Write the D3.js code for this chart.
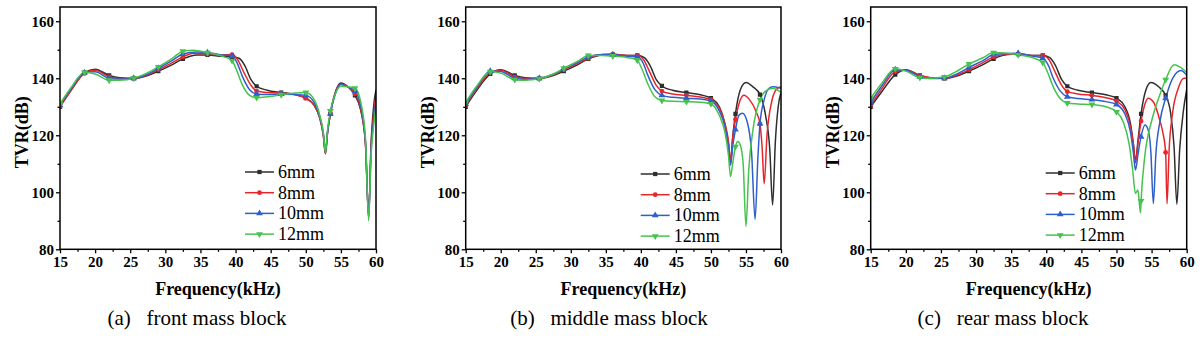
<!DOCTYPE html>
<html>
<head>
<meta charset="utf-8">
<script src="https://cdn.jsdelivr.net/npm/d3@7"></script>
<style>
  body { margin: 0; background: #fff; }
  svg { display: block; }
  svg text { font-family: "Liberation Serif", "Times New Roman", Times, "DejaVu Serif", serif !important; }
</style>
</head>
<body>
<div id="chart"></div>
<script>
// series labels, colours and marker frequencies
const seriesNames = ["6mm", "8mm", "10mm", "12mm"];
const seriesColors = ["#2e2e2e", "#e8262a", "#2f5fcc", "#46c24f"];
const markerFreqs = [15, 18.5, 22, 25.5, 29, 32.5, 36, 39.5, 43, 46.5, 50, 53.5, 57];
const xTicks = [15, 20, 25, 30, 35, 40, 45, 50, 55, 60];
const yTicks = [80, 100, 120, 140, 160];

// (a) front mass block
const front6 = [[15,130],[16.5,135.5],[18.5,142],[20,143.2],[22,141],[23.5,140.2],[25.5,140],[27.5,141],[29,142.5],[31,144.8],[32.5,146.8],[34.5,148.2],[36,148.2],[38,147.7],[39.5,147.5],[40.5,147],[41.3,144.5],[42.2,139.5],[43,137.2],[44.5,135.8],[46.5,135],[48.5,134.3],[50,133],[51.2,130.5],[52,126],[52.5,120],[52.8,113.5],[53.1,121],[53.5,127.5],[54.2,135],[55,138.3],[56,137],[57,134],[57.8,129],[58.5,117],[58.95,92],[59.3,117],[59.7,131],[60,136]];
const front8 = [[15,130],[16.5,135.5],[18.5,141.7],[20,142.8],[22,140.5],[23.5,139.9],[25.5,140],[27.5,141.2],[29,143],[31,145.5],[32.5,147.5],[34,148.8],[36,148.5],[38,148.2],[39.5,148.3],[40.3,146.5],[41.2,142],[42.2,137.5],[43,135.5],[44.5,135],[46.5,134.8],[48.5,134.2],[50,133],[51.2,130.5],[52,126],[52.5,120],[52.8,113.5],[53.1,121],[53.5,127.5],[54.2,134.8],[55,138],[56,137],[57,134.5],[57.8,129.5],[58.5,117],[58.95,91],[59.3,116],[59.7,128],[60,134]];
const front10 = [[15,130.5],[16.5,136],[18.5,142],[20,142.3],[22,140],[23.5,139.7],[25.5,140],[27.5,141.5],[29,143.5],[31,146.3],[32.5,148.5],[34.5,149.2],[36,149],[38,148.2],[39.5,147.8],[40.2,145.5],[41,140.5],[42,136],[43,134.5],[44.5,134.3],[46.5,134.5],[48.5,134.3],[50,134],[51.2,131.5],[52,126.5],[52.5,120.5],[52.8,114],[53.1,121],[53.5,127.5],[54.2,134.5],[55,137.8],[56,137],[57,135.5],[57.8,130.5],[58.5,118],[58.95,91],[59.3,115],[59.7,126],[60,132]];
const front12 = [[15,131],[16.5,136.5],[18.5,142],[20,141.5],[22,139.3],[23.5,139.3],[25.5,140],[27.5,142],[29,144],[31,147],[32.5,149.5],[34,149.8],[36,149],[38,147.8],[39.5,146.2],[40.2,142.5],[41,137.5],[42,134],[43,133.2],[44.5,133.5],[46.5,134.2],[48.5,134.8],[50,135],[51.2,132.5],[52,127],[52.5,121],[52.8,114],[53.1,122],[53.5,128.5],[54.2,134.5],[55,137.2],[56,137],[57,136.5],[57.8,132],[58.5,119],[58.95,90],[59.3,113],[59.7,124],[60,130]];

// (b) middle mass block
const middle6 = [[15,130],[16.5,135.5],[18.5,141.5],[20,143],[22,141],[23.5,140.2],[25.5,140],[27.5,141],[29,142.5],[31,144.8],[32.5,146.8],[34.5,148.2],[36,148.3],[38,148],[39.5,148],[40.5,147.2],[41.3,144.5],[42.2,139.5],[43,137.3],[44.5,135.8],[46.5,135],[48.5,134.2],[50,133],[51.2,130],[52,124],[52.5,117],[52.8,110],[53.1,119],[53.5,127.5],[54.2,136],[55,138.5],[56,137],[57,134.3],[57.8,127],[58.4,115],[58.8,95.5],[59.2,118],[59.6,130],[60,135]];
const middle8 = [[15,130.5],[16.5,136],[18.5,142],[20,142.8],[22,140.5],[23.5,139.9],[25.5,140],[27.5,141.2],[29,143],[31,145.2],[32.5,147],[34.5,148.3],[36,148.5],[38,148],[39.5,148],[40.4,146.5],[41.2,142.5],[42.2,137.5],[43,135.5],[44.5,134.5],[46.5,134],[48.5,133.4],[50,132.5],[51.2,129.5],[52,124],[52.5,118],[52.8,111],[53.1,119],[53.5,125.5],[54,131],[54.7,134],[55.5,132.5],[56.5,128],[57,124],[57.3,116],[57.6,103],[58,120],[58.6,131],[59.3,136],[60,137]];
const middle10 = [[15,131],[16.5,136.5],[18.5,142.5],[20,142.4],[22,140],[23.5,139.6],[25.5,140],[27.5,141.4],[29,143.3],[31,145.6],[32.5,147.5],[34.5,148.3],[36,148.3],[38,147.7],[39.5,147.5],[40.3,145.5],[41,141],[42,136],[43,134],[44.5,133.3],[46.5,133],[48.5,132.7],[50,132],[51.2,128.5],[52,123],[52.5,116],[52.8,109.5],[53.1,116],[53.5,122],[54,127],[54.5,127.7],[55.2,124.5],[55.8,114],[56.3,90.5],[56.7,112],[57,124],[57.6,132.5],[58.3,136.5],[58.8,137],[60,136.5]];
const middle12 = [[15,131.5],[16.5,137],[18.5,142.3],[20,141.8],[22,139.5],[23.5,139.3],[25.5,139.8],[27.5,141.5],[29,143.5],[31,146],[32.5,148],[34.5,148],[36,147.8],[38,147.3],[39.5,146.3],[40.2,143],[41,138],[42,133.5],[43,132.2],[44.5,131.9],[46.5,131.8],[48.5,131.6],[50,131],[51.2,127],[52,121],[52.5,113],[52.8,105.5],[53.1,110],[53.5,116],[53.8,117.8],[54.2,116.5],[54.6,110],[55,88],[55.4,108],[56,122],[57,132.5],[57.8,135.5],[58.8,136.5],[60,135]];

// (c) rear mass block
const rear6 = [[15,130],[16.5,135],[18.5,141.3],[20,143],[22,141],[23.5,140.2],[25.5,140],[27.5,141],[29,142.5],[31,144.8],[32.5,146.8],[34.5,148.3],[36,148.5],[38,148],[39.5,148],[40.5,147.2],[41.3,144.5],[42.2,139.5],[43,137.2],[44.5,135.8],[46.5,135],[48.5,134.2],[50,133],[51.2,130],[52,124],[52.4,117],[52.7,111],[53.1,119],[53.5,127.5],[54.2,136],[54.9,138.5],[56,137],[57,134],[57.7,128],[58.2,116],[58.6,95.8],[59,115],[59.5,128],[60,136]];
const rear8 = [[15,130.5],[16.5,136],[18.5,142.3],[20,142.8],[22,141],[23.5,140.2],[25.5,140],[27.5,141.3],[29,143],[31,145.5],[32.5,147.5],[34.5,148.4],[36,148.5],[38,148],[39.5,148],[40.4,146.5],[41.2,142.5],[42.2,137.5],[43,135.3],[44.5,134.5],[46.5,134],[48.5,133.2],[50,132],[51.2,129],[52,123],[52.4,117],[52.7,110.3],[53.1,118],[53.5,125],[54,130.5],[54.5,133],[55.3,131.5],[56.2,125],[56.6,121],[57,114],[57.2,96],[57.5,115],[58,128],[58.8,136.5],[59.6,140],[60,140]];
const rear10 = [[15,131.5],[16.5,137],[18.5,143],[20,142.8],[22,140.5],[23.5,139.9],[25.5,140],[27.5,141.8],[29,143.8],[31,146.2],[32.5,148.3],[34.5,148.7],[36,148.8],[38,147.8],[39.5,147],[40.3,144.5],[41,140],[42,135.5],[43,133.5],[44.5,132.9],[46.5,132.5],[48.5,131.8],[50,130.8],[51.2,127.5],[52,121],[52.4,114],[52.7,107.8],[53.1,114],[53.5,119.5],[54.05,123.6],[54.5,122],[54.9,114],[55.25,96],[55.6,113],[56.2,125],[57,133],[58,140],[59.2,142.7],[60,141]];
const rear12 = [[15,133],[16.5,138],[18.5,143.3],[20,142.5],[22,140.2],[23.5,140],[25.5,140.5],[27.5,142.8],[29,145],[31,147.2],[32.5,149],[34.5,148.8],[36,148.2],[38,147.3],[39.5,145.5],[40.2,142],[41,137],[42,132.8],[43,131.3],[44.5,131],[46.5,130.8],[48.5,130],[50,128.2],[51,124.5],[51.8,117],[52.3,108],[52.7,99.6],[53.05,100.8],[53.42,92.8],[53.5,97],[54,112],[55,125],[56,133],[57,139.5],[58.2,144.7],[59,144],[60,142]];

const W = 1200, H = 338;
const plotTop = 7, plotBottom = 249.3;
const serif = '"Liberation Serif", "Times New Roman", Times, "DejaVu Serif", serif';

const panels = [
  { left: 60,    right: 376,    caption: "(a)   front mass block",  capX: 197,  legendDx: 185, legendY: 172, series: [front6, front8, front10, front12] },
  { left: 465.7, right: 781,    caption: "(b)   middle mass block", capX: 609,  legendDx: 175, legendY: 174, series: [middle6, middle8, middle10, middle12] },
  { left: 870.7, right: 1186.7, caption: "(c)   rear mass block",   capX: 1003, legendDx: 175, legendY: 173, series: [rear6, rear8, rear10, rear12] }
];

const svg = d3.select("#chart").append("svg")
  .attr("width", W).attr("height", H)
  .attr("font-family", serif);

const symbols = [d3.symbolSquare, d3.symbolCircle, d3.symbolTriangle, d3.symbolTriangle];
const symbolSize = [18, 18, 20, 20];
const symbolRot = [0, 0, 0, 180];

function marker(g, i, x, y) {
  g.append("path")
    .attr("d", d3.symbol().type(symbols[i]).size(symbolSize[i])())
    .attr("transform", `translate(${x},${y}) rotate(${symbolRot[i]})`)
    .attr("fill", seriesColors[i]);
}

panels.forEach((p, pi) => {
  const x = d3.scaleLinear().domain([15, 60]).range([p.left, p.right]);
  const y = d3.scaleLinear().domain([80, 165]).range([plotBottom, plotTop]);
  const g = svg.append("g");

  g.append("clipPath").attr("id", "clip" + pi)
    .append("rect")
    .attr("x", p.left).attr("y", plotTop)
    .attr("width", p.right - p.left).attr("height", plotBottom - plotTop);

  const line = d3.line()
    .x(d => x(d[0])).y(d => y(d[1]))
    .curve(d3.curveMonotoneX);

  const plot = g.append("g").attr("clip-path", `url(#clip${pi})`);
  p.series.forEach((s, i) => {
    plot.append("path")
      .datum(s)
      .attr("d", line)
      .attr("fill", "none")
      .attr("stroke", seriesColors[i])
      .attr("stroke-width", 1.5);
  });
  p.series.forEach((s, i) => {
    s.filter(d => markerFreqs.includes(d[0]))
      .forEach(d => marker(plot, i, x(d[0]), y(d[1])));
  });

  // axes
  const xAxis = g.append("g")
    .attr("transform", `translate(0,${plotBottom})`)
    .call(d3.axisBottom(x).tickValues(xTicks).tickSize(4).tickPadding(3));
  g.append("g")
    .attr("transform", `translate(0,${plotBottom})`)
    .call(d3.axisBottom(x).tickValues(d3.range(17.5, 60, 5)).tickSize(2.5).tickFormat(""));
  const yAxis = g.append("g")
    .attr("transform", `translate(${p.left},0)`)
    .call(d3.axisLeft(y).tickValues(yTicks).tickSize(4).tickPadding(2));
  g.append("g")
    .attr("transform", `translate(${p.left},0)`)
    .call(d3.axisLeft(y).tickValues([90, 110, 130, 150]).tickSize(2.5).tickFormat(""));

  g.selectAll(".tick line").attr("stroke", "#000").attr("stroke-width", 1.3);
  g.selectAll(".domain").remove();
  g.selectAll("g").attr("font-family", serif);
  [xAxis, yAxis].forEach(a => a.selectAll("text")
    .attr("fill", "#000")
    .style("font-size", "15px")
    .style("font-weight", "bold"));

  g.append("rect")
    .attr("x", p.left).attr("y", plotTop)
    .attr("width", p.right - p.left).attr("height", plotBottom - plotTop)
    .attr("fill", "none").attr("stroke", "#000").attr("stroke-width", 1.5);

  // titles
  g.append("text")
    .attr("x", (p.left + p.right) / 2).attr("y", 295)
    .attr("text-anchor", "middle")
    .style("font-size", "18px").style("font-weight", "bold")
    .text("Frequency(kHz)");
  g.append("text")
    .attr("transform", `translate(${p.left - 32},${(plotTop + plotBottom) / 2 + 4}) rotate(-90)`)
    .attr("text-anchor", "middle")
    .style("font-size", "18px").style("font-weight", "bold")
    .text("TVR(dB)");
  g.append("text")
    .attr("x", p.capX).attr("y", 325)
    .attr("text-anchor", "middle")
    .style("font-size", "21px")
    .style("white-space", "pre")
    .attr("xml:space", "preserve")
    .text(p.caption);

  // legend
  const lx = p.left + p.legendDx;
  seriesNames.forEach((name, i) => {
    const ly = p.legendY + i * 20.7;
    g.append("line")
      .attr("x1", lx).attr("x2", lx + 29)
      .attr("y1", ly).attr("y2", ly)
      .attr("stroke", seriesColors[i]).attr("stroke-width", 1.5);
    marker(g, i, lx + 14.5, ly);
    g.append("text")
      .attr("x", lx + 33).attr("y", ly + 6)
      .style("font-size", "18px")
      .text(name);
  });
});
</script>
</body>
</html>
